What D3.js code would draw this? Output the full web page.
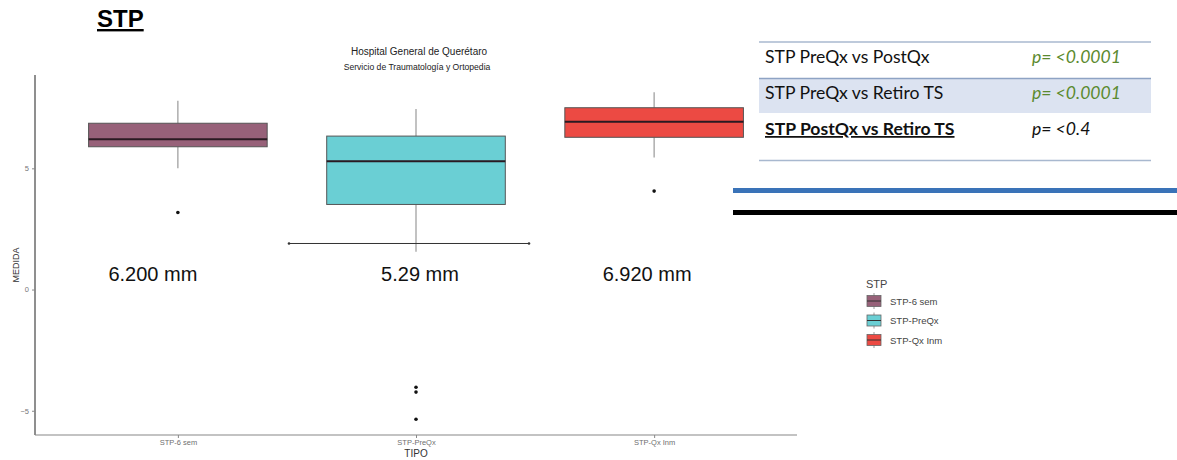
<!DOCTYPE html>
<html>
<head>
<meta charset="utf-8">
<script src="https://cdn.jsdelivr.net/npm/d3@7"></script>
<style>
  html, body { margin: 0; padding: 0; background: #fff; }
  svg { display: block; }
</style>
</head>
<body>
<svg id="chart" width="1177" height="460"></svg>
<script>
// Groups and box-plot summaries (mm)
const categories = ["STP-6 sem", "STP-PreQx", "STP-Qx Inm"];
const fills = ["#976179", "#6acfd4", "#ec4a43"];
const medians = [6.2, 5.29, 6.92];
const q1s = [5.89, 3.51, 6.28];
const q3s = [6.86, 6.33, 7.5];
const whiskerLow = [5.0, 1.56, 5.45];
const whiskerHigh = [7.79, 7.45, 8.14];
const outliers = [[3.18], [-4.03, -4.23, -5.35], [4.06]];
const medianLabels = ["6.200 mm", "5.29 mm", "6.920 mm"];
const bracketValue = 1.9;
const yTicks = [-5, 0, 5];

// Comparison table
const comparisons = ["STP PreQx vs PostQx", "STP PreQx vs Retiro TS", "STP PostQx vs Retiro TS"];
const pValues = ["p= <0.0001", "p= <0.0001", "p= <0.4"];

const svg = d3.select("#chart");

const plot = { left: 35, right: 797, top: 75, bottom: 435 };

const x = d3.scalePoint().domain(categories).range([plot.left, plot.right]).padding(0.6);
const y = d3.scaleLinear().domain([-6, 8.85]).range([plot.bottom, plot.top]);
const boxW = x.step() * 0.75;

// Slide heading
svg.append("text").attr("x", 97).attr("y", 27)
  .attr("font-family", "Liberation Sans, Arial, sans-serif")
  .attr("font-weight", "bold").attr("font-size", 24).attr("fill", "#000")
  .attr("text-decoration", "underline").text("STP");

// Plot titles
svg.append("text").attr("x", 419).attr("y", 55).attr("text-anchor", "middle")
  .attr("font-family", "Liberation Sans, Arial, sans-serif").attr("font-size", 10)
  .attr("fill", "#222").text("Hospital General de Querétaro");
svg.append("text").attr("x", 417).attr("y", 70).attr("text-anchor", "middle")
  .attr("font-family", "Liberation Sans, Arial, sans-serif").attr("font-size", 8.6)
  .attr("fill", "#222").text("Servicio de Traumatología y Ortopedia");

// Axes
const yAxis = d3.axisLeft(y).tickValues(yTicks).tickSize(3).tickPadding(3);
const gy = svg.append("g").attr("transform", `translate(${plot.left},0)`).call(yAxis);
gy.select(".domain").attr("d", `M0,${plot.top}V${plot.bottom}`).attr("stroke", "#333").attr("stroke-width", 1.1);
gy.selectAll(".tick line").attr("stroke", "#888");
gy.selectAll(".tick text").attr("font-family", "Liberation Sans, Arial, sans-serif")
  .attr("font-size", 7.5).attr("fill", "#777");

const xAxis = d3.axisBottom(x).tickSize(3).tickPadding(2);
const gx = svg.append("g").attr("transform", `translate(0,${plot.bottom})`).call(xAxis);
gx.select(".domain").attr("d", `M${plot.left},0H${plot.right}`).attr("stroke", "#888").attr("stroke-width", 1.1);
gx.selectAll(".tick line").attr("stroke", "#888");
gx.selectAll(".tick text").attr("font-family", "Liberation Sans, Arial, sans-serif")
  .attr("font-size", 7.5).attr("fill", "#6f6f6f");

svg.append("text").attr("x", (plot.left + plot.right) / 2).attr("y", 457)
  .attr("text-anchor", "middle").attr("font-family", "Liberation Sans, Arial, sans-serif")
  .attr("font-size", 10).attr("fill", "#333").text("TIPO");
svg.append("text").attr("transform", `translate(19,${(plot.top + plot.bottom) / 2 + 10}) rotate(-90)`)
  .attr("text-anchor", "middle").attr("font-family", "Liberation Sans, Arial, sans-serif")
  .attr("font-size", 9).attr("fill", "#333").text("MEDIDA");

// Boxes
const boxes = svg.append("g").selectAll("g").data(categories).join("g");
boxes.append("line")
  .attr("x1", d => x(d)).attr("x2", d => x(d))
  .attr("y1", (d, i) => y(whiskerHigh[i])).attr("y2", (d, i) => y(q3s[i]))
  .attr("stroke", "#999").attr("stroke-width", 1.2);
boxes.append("line")
  .attr("x1", d => x(d)).attr("x2", d => x(d))
  .attr("y1", (d, i) => y(q1s[i])).attr("y2", (d, i) => y(whiskerLow[i]))
  .attr("stroke", "#999").attr("stroke-width", 1.2);
boxes.append("rect")
  .attr("x", d => x(d) - boxW / 2).attr("width", boxW)
  .attr("y", (d, i) => y(q3s[i])).attr("height", (d, i) => y(q1s[i]) - y(q3s[i]))
  .attr("fill", (d, i) => fills[i]).attr("stroke", "#555").attr("stroke-width", 1);
boxes.append("line")
  .attr("x1", d => x(d) - boxW / 2).attr("x2", d => x(d) + boxW / 2)
  .attr("y1", (d, i) => y(medians[i])).attr("y2", (d, i) => y(medians[i]))
  .attr("stroke", "#2a1a22").attr("stroke-width", 2);
boxes.each(function (d, i) {
  d3.select(this).selectAll("circle").data(outliers[i]).join("circle")
    .attr("cx", x(d)).attr("cy", v => y(v)).attr("r", 1.8).attr("fill", "#111");
});

// Bracket line under the pre-surgery box
const bx = x(categories[1]);
svg.append("line").attr("x1", bx - 127).attr("x2", bx + 113)
  .attr("y1", y(bracketValue)).attr("y2", y(bracketValue))
  .attr("stroke", "#333").attr("stroke-width", 1);
[bx - 127, bx + 113].forEach(px => svg.append("circle").attr("cx", px).attr("cy", y(bracketValue))
  .attr("r", 1.3).attr("fill", "#333"));

// Median annotations
const labelShift = [-25, 4, -7];
svg.append("g").selectAll("text").data(medianLabels).join("text")
  .attr("x", (d, i) => x(categories[i]) + labelShift[i]).attr("y", 281)
  .attr("text-anchor", "middle").attr("font-family", "Liberation Sans, Arial, sans-serif")
  .attr("font-size", 20).attr("fill", "#111").text(d => d);

// Legend
const lg = svg.append("g").attr("transform", "translate(866,0)");
lg.append("text").attr("x", 0).attr("y", 288).attr("font-family", "Liberation Sans, Arial, sans-serif")
  .attr("font-size", 11).attr("fill", "#444").text("STP");
const items = lg.selectAll("g.item").data(categories).join("g").attr("class", "item")
  .attr("transform", (d, i) => `translate(0,${301 + i * 19.5})`);
items.append("line").attr("x1", 8).attr("x2", 8).attr("y1", -8).attr("y2", 8).attr("stroke", "#999");
items.append("rect").attr("x", 1).attr("y", -5.5).attr("width", 14).attr("height", 11)
  .attr("fill", (d, i) => fills[i]).attr("stroke", "#666").attr("stroke-width", 0.8);
items.append("line").attr("x1", 1).attr("x2", 15).attr("y1", 0).attr("y2", 0)
  .attr("stroke", "#333").attr("stroke-width", 1);
items.append("text").attr("x", 24).attr("y", 3.5).attr("font-family", "Liberation Sans, Arial, sans-serif")
  .attr("font-size", 9.5).attr("fill", "#444").text(d => d);

// Comparison table
const tb = svg.append("g");
tb.append("rect").attr("x", 759).attr("y", 78).attr("width", 392).attr("height", 35).attr("fill", "#dce3f1");
tb.append("line").attr("x1", 759).attr("x2", 1151).attr("y1", 42).attr("y2", 42).attr("stroke", "#a8b8cf").attr("stroke-width", 1.5);
tb.append("line").attr("x1", 759).attr("x2", 1151).attr("y1", 78.5).attr("y2", 78.5).attr("stroke", "#8ea3c4").attr("stroke-width", 1.5);
tb.append("line").attr("x1", 759).attr("x2", 1151).attr("y1", 160.5).attr("y2", 160.5).attr("stroke", "#a8b8cf").attr("stroke-width", 1.5);
const rows = tb.selectAll("g.row").data(comparisons).join("g").attr("class", "row")
  .attr("transform", (d, i) => `translate(0,${63 + i * 36})`);
rows.append("text").attr("x", 765).attr("y", 0).attr("font-family", "Lato, Open Sans, sans-serif")
  .attr("font-size", 17.6).attr("fill", "#111")
  .attr("font-weight", (d, i) => i === 2 ? "bold" : "normal")
  .attr("text-decoration", (d, i) => i === 2 ? "underline" : "none").text(d => d);
rows.append("text").attr("x", 1032).attr("y", 0).attr("font-family", "Lato, Open Sans, sans-serif")
  .attr("font-size", 17.6).attr("font-style", "italic")
  .attr("fill", (d, i) => i === 2 ? "#111" : "#5b8a2f").text((d, i) => pValues[i]);

// Divider rules
svg.append("rect").attr("x", 733).attr("y", 188).attr("width", 444).attr("height", 5).attr("fill", "#3a73b8");
svg.append("rect").attr("x", 733).attr("y", 210).attr("width", 444).attr("height", 5).attr("fill", "#000");
</script>
</body>
</html>
